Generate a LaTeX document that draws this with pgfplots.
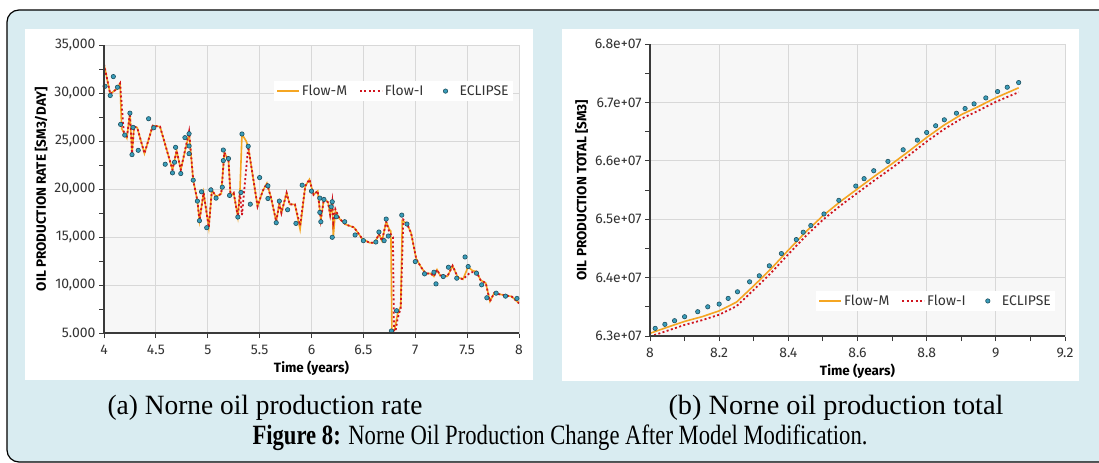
\documentclass[border=0pt]{standalone}
\usepackage{fontspec}
\setmainfont{Liberation Serif}
\newfontfamily\chartfont{Fira Sans}
\usepackage{graphicx}
\usepackage{pgfplots}
\pgfplotsset{compat=1.18}

\definecolor{bgblue}{HTML}{D9ECF1}
\definecolor{cflowm}{HTML}{F5A623}
\definecolor{cflowi}{HTML}{D0141E}
\definecolor{eclfill}{HTML}{3A9DBA}
\definecolor{ecldraw}{HTML}{1D4F5E}
\definecolor{plotbg}{HTML}{F7F7F7}
\definecolor{gridc}{HTML}{D8D8D8}
\definecolor{axisc}{HTML}{3A3A3A}
\definecolor{txt}{HTML}{333333}

\pgfplotsset{
  nornechart/.style={
    scale only axis,
    anchor=south west,
    axis background/.style={fill=plotbg},
    grid=major,
    major grid style={gridc, line width=0.9bp},
    axis line style={gridc, line width=1bp},
    tick align=outside,
    xtick pos=bottom, ytick pos=left,
    major tick length=5bp, minor tick length=5bp,
    every tick/.style={axisc, line width=0.9bp},
    tick label style={font=\chartfont\fontsize{14}{14}\selectfont, text=txt},
    xticklabel style={yshift=-4bp},
    /pgf/number format/assume math mode=true,
    label style={font=\chartfont\bfseries\fontsize{13.5}{14}\selectfont, text=black},
    xlabel style={yshift=1bp},
    scaled ticks=false,
    legend columns=-1,
    legend cell align=left,
    legend style={fill=white, draw=none, font=\chartfont\fontsize{14}{14}\selectfont,
      text=txt, inner sep=2bp, /tikz/every even column/.append style={column sep=10bp}},
    legend image code/.code={\draw[mark repeat=2,mark phase=2,#1]
      plot coordinates {(0bp,0bp) (11bp,0bp) (22bp,0bp)};},
  },
  lineM/.style={cflowm, line width=1.6bp, no markers},
  lineI/.style={cflowi, line width=1.8bp, no markers, dash pattern=on 2bp off 2.4bp},
  dotsE/.style={only marks, mark=*, mark size=2.2bp, forget plot,
    mark options={fill=eclfill, draw=ecldraw, line width=0.6bp, solid}},
  dotsEkey/.style={legend image code/.code={
    \path[draw=none, fill=none] (0bp,-2bp) rectangle (22bp,2bp);
    \path[draw=ecldraw, fill=eclfill, line width=0.6bp, solid] (10bp,0bp) circle (2.2bp);}},
}

\begin{document}
\begin{tikzpicture}
\path[use as bounding box] (0,0) rectangle (1099bp,-463bp);
\clip (0,0) rectangle (1099bp,-463bp);
\draw[fill=bgblue, line width=1.2bp, rounded corners=12bp] (7bp,-10bp) rectangle (1130bp,-462bp);
\fill[white] (25bp,-29bp) rectangle (533bp,-380bp);
\fill[white] (562bp,-29bp) rectangle (1079bp,-381bp);

% (a) rate
\begin{axis}[nornechart, name=A,
  at={(104bp,-333bp)}, width=415bp, height=288bp,
  xmin=4, xmax=8, ymin=5000, ymax=35000,
  xtick={4,4.5,5,5.5,6,6.5,7,7.5,8},
  xticklabels={4,4.5,5,5.5,6,6.5,7,7.5,8},
  ytick={5000,10000,15000,20000,25000,30000,35000},
  yticklabels={{5.000},{10,000},{15,000},{20,000},{25,000},{30,000},{35,000}},
  minor y tick num=1,
  xlabel={Time (years)},
  ylabel={OIL PRODUCTION RATE [SM3/DAY]},
  legend style={at={(0.985,0.84)}, anchor=east},
]
\addplot[lineM] coordinates {
(4.00,33000) (4.06,29900) (4.12,30400) (4.155,31000) (4.17,26300) (4.20,25700)
(4.22,25300) (4.25,27900) (4.27,23700) (4.29,26500) (4.32,26400) (4.39,23700)
(4.47,26600) (4.54,26500) (4.58,25000) (4.66,22000) (4.70,24000) (4.74,22000)
(4.82,25800) (4.86,20900) (4.90,18800) (4.92,16700) (4.96,19600) (5.01,16000)
(5.04,19900) (5.08,19200) (5.13,19500) (5.16,23800) (5.20,23000) (5.22,19300)
(5.25,19600) (5.29,17100) (5.31,19700) (5.33,25700) (5.37,25000) (5.39,24400)
(5.48,18200) (5.53,19800) (5.57,20600) (5.61,19100) (5.66,16600) (5.69,18500)
(5.71,17500) (5.76,19600) (5.79,18400) (5.84,18400) (5.89,15800) (5.94,20300)
(5.98,21000) (6.02,19400) (6.06,19800) (6.09,16800) (6.12,19000) (6.16,18600)
(6.18,17300) (6.20,18700) (6.21,15000) (6.23,17700) (6.27,16900) (6.33,16300)
(6.41,16000) (6.49,14800) (6.56,14400) (6.61,14400) (6.65,15300) (6.68,14600)
(6.72,16600) (6.75,15800) (6.765,15600) (6.775,5200) (6.80,5300) (6.83,7000)
(6.86,7800) (6.875,16700) (6.92,16400) (6.96,15400) (7.01,12700) (7.06,11800)
(7.10,11200) (7.15,11200) (7.18,10900) (7.21,11600) (7.24,11000) (7.31,10900)
(7.36,12000) (7.41,10800) (7.46,10600) (7.51,11900) (7.55,11500) (7.59,11400)
(7.63,10500) (7.68,10200) (7.72,8300) (7.76,9150) (7.83,9000) (7.93,8800) (8.00,8100)
};
\addlegendentry{Flow-M}
\addplot[lineI] coordinates {
(4.00,33000) (4.06,29900) (4.12,30400) (4.155,31000) (4.19,26000) (4.22,25300)
(4.25,27900) (4.27,23700) (4.29,26500) (4.32,26400) (4.39,23700) (4.47,26600)
(4.54,26500) (4.58,25000) (4.66,22000) (4.70,24000) (4.74,22000) (4.82,26000)
(4.86,20900) (4.90,18800) (4.92,16700) (4.96,19600) (5.01,16000) (5.04,19900)
(5.08,19200) (5.13,19500) (5.16,23800) (5.20,23000) (5.22,19300) (5.25,19600)
(5.29,17100) (5.31,19600) (5.33,17300) (5.39,24400) (5.48,18200) (5.53,19800)
(5.57,20600) (5.61,19100) (5.66,16600) (5.69,18500) (5.71,17500) (5.76,19600)
(5.79,18400) (5.84,18400) (5.89,16200) (5.94,20300) (5.98,21000) (6.02,19400)
(6.06,19800) (6.09,16800) (6.12,19000) (6.16,18600) (6.18,17300) (6.20,18700)
(6.21,16500) (6.23,17900) (6.27,16900) (6.33,16300) (6.41,16000) (6.49,14800)
(6.56,14400) (6.61,14400) (6.65,15300) (6.68,14600) (6.72,16600) (6.75,15500)
(6.785,15000) (6.795,5200) (6.81,5200) (6.83,6500) (6.86,7600) (6.885,16800)
(6.92,16400) (6.96,15400) (7.01,12700) (7.06,11800) (7.10,11200) (7.15,11200)
(7.18,10900) (7.21,11600) (7.24,11000) (7.31,10900) (7.36,12000) (7.41,10800)
(7.46,10600) (7.53,11300) (7.59,11400) (7.63,10500) (7.68,10200) (7.72,8300)
(7.76,9150) (7.83,9000) (7.93,8800) (8.00,8100)
};
\addlegendentry{Flow-I}
\addplot[dotsE] coordinates {
(4.01,30700) (4.06,29740) (4.09,31710) (4.13,30600) (4.16,26730) (4.20,25620)
(4.25,27900) (4.27,23580) (4.28,26420) (4.33,24030) (4.43,27320) (4.48,26380)
(4.59,22580) (4.66,21680) (4.68,22790) (4.69,24340) (4.74,21610) (4.78,25350)
(4.82,25760) (4.82,24480) (4.82,23680) (4.86,20920) (4.90,18740) (4.92,16700)
(4.94,19710) (4.99,15970) (5.03,19910) (5.08,19050) (5.14,20190) (5.15,24060)
(5.15,22960) (5.20,23170) (5.21,19330) (5.29,17080) (5.32,19640) (5.33,25730)
(5.39,24450) (5.41,18420) (5.50,21190) (5.58,20330) (5.58,19010) (5.66,16490)
(5.69,18740) (5.77,17840) (5.85,16420) (5.91,20400) (6.00,19780) (6.08,19050)
(6.08,17560) (6.09,16590) (6.12,18910) (6.20,18670) (6.19,18150) (6.20,14970)
(6.24,17110) (6.32,16590) (6.42,15210) (6.50,14620) (6.62,14480) (6.65,15520)
(6.70,14620) (6.72,16870) (6.74,15100) (6.77,5210) (6.82,7320) (6.87,17280)
(6.92,16350) (7.00,12440) (7.09,11160) (7.18,11330) (7.20,10120) (7.27,10880)
(7.32,11850) (7.40,10710) (7.48,12920) (7.51,11920) (7.59,11230) (7.64,10020)
(7.69,8670) (7.78,9150) (7.87,8840) (7.98,8600)
};
\addlegendimage{dotsEkey}
\addlegendentry{ECLIPSE}
\end{axis}
\draw[axisc, line width=1.4bp] (A.north west) -- (A.south west) -- (A.south east);

% (b) total
\begin{axis}[nornechart, name=B,
  at={(650bp,-336bp)}, width=415bp, height=292bp,
  xmin=8, xmax=9.2, ymin=6.3e7, ymax=6.8e7,
  xtick={8,8.2,8.4,8.6,8.8,9,9.2},
  xticklabels={8,8.2,8.4,8.6,8.8,9,9.2},
  minor x tick num=1,
  ytick={6.3e7,6.4e7,6.5e7,6.6e7,6.7e7,6.8e7},
  yticklabels={6.3e+07,6.4e+07,6.5e+07,6.6e+07,6.7e+07,6.8e+07},
  minor y tick num=1,
  xlabel={Time (years)},
  ylabel={OIL PRODUCTION TOTAL [SM3]},
  legend style={at={(0.976,0.12)}, anchor=east},
]
\addplot[lineM] coordinates {
(8.00,6.3046e7) (8.05,6.3150e7) (8.10,6.3250e7) (8.15,6.3330e7) (8.20,6.3430e7)
(8.25,6.3580e7) (8.30,6.3860e7) (8.35,6.4150e7) (8.40,6.4470e7) (8.45,6.4780e7)
(8.50,6.5060e7) (8.55,6.5300e7) (8.60,6.5520e7) (8.65,6.5740e7) (8.70,6.5950e7)
(8.75,6.6170e7) (8.80,6.6400e7) (8.85,6.6610e7) (8.90,6.6790e7) (8.95,6.6930e7)
(9.00,6.7080e7) (9.066,6.7250e7)
};
\addlegendentry{Flow-M}
\addplot[lineI] coordinates {
(8.00,6.2990e7) (8.05,6.3090e7) (8.10,6.3190e7) (8.15,6.3270e7) (8.20,6.3365e7)
(8.25,6.3510e7) (8.30,6.3790e7) (8.35,6.4080e7) (8.40,6.4400e7) (8.45,6.4710e7)
(8.50,6.4990e7) (8.55,6.5230e7) (8.60,6.5450e7) (8.65,6.5670e7) (8.70,6.5880e7)
(8.75,6.6100e7) (8.80,6.6330e7) (8.85,6.6540e7) (8.90,6.6720e7) (8.95,6.6860e7)
(9.00,6.7010e7) (9.066,6.7175e7)
};
\addlegendentry{Flow-I}
\addplot[dotsE] coordinates {
(8.015,6.3131e7) (8.043,6.3200e7) (8.071,6.3262e7) (8.100,6.3330e7) (8.138,6.3416e7)
(8.167,6.3500e7) (8.200,6.3547e7) (8.226,6.3644e7) (8.253,6.3757e7) (8.288,6.3928e7)
(8.316,6.4031e7) (8.345,6.4202e7) (8.380,6.4412e7) (8.423,6.4651e7) (8.443,6.4777e7)
(8.465,6.4891e7) (8.503,6.5090e7) (8.546,6.5323e7) (8.595,6.5568e7) (8.619,6.5694e7)
(8.647,6.5830e7) (8.688,6.5990e7) (8.732,6.6189e7) (8.773,6.6354e7) (8.800,6.6485e7)
(8.826,6.6600e7) (8.851,6.6702e7) (8.886,6.6815e7) (8.911,6.6895e7) (8.937,6.6975e7)
(8.971,6.7077e7) (9.005,6.7186e7) (9.033,6.7260e7) (9.066,6.7340e7)
};
\addlegendimage{dotsEkey}
\addlegendentry{ECLIPSE}
\end{axis}
\draw[axisc, line width=1.4bp] (B.north west) -- (B.south west) -- (B.south east);

% captions
\node[anchor=base, font=\fontsize{28}{28}\selectfont, inner sep=0pt] at (265bp,-414bp)
  {\resizebox{315bp}{\height}{(a) Norne oil production rate}};
\node[anchor=base, font=\fontsize{28}{28}\selectfont, inner sep=0pt] at (836bp,-414bp)
  {\resizebox{335bp}{\height}{(b) Norne oil production total}};
\node[anchor=base, font=\fontsize{28}{28}\selectfont, inner sep=0pt] at (560bp,-444bp)
  {\resizebox{615bp}{\height}{\textbf{Figure 8:} Norne Oil Production Change After Model Modification.}};
\end{tikzpicture}
\end{document}
